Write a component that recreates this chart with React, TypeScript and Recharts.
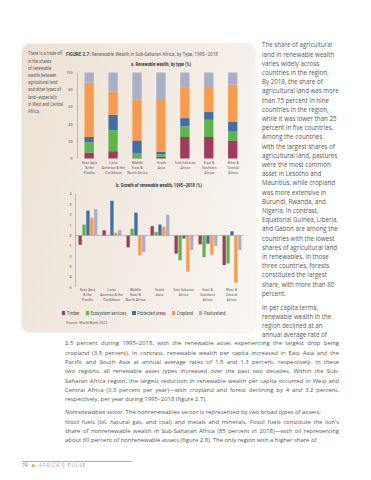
import React from 'react';
import { BarChart, Bar, XAxis, YAxis, ReferenceLine, Legend } from 'recharts';

// ---------- data ----------
const regions = [
  'East Asia & the Pacific',
  'Latin America & the Caribbean',
  'Middle East & North Africa',
  'South Asia',
  'Sub-Saharan Africa',
  'East & Southern Africa',
  'West & Central Africa',
];
const regionLabelLines = [
  ['East Asia', '& the', 'Pacific'],
  ['Latin', 'America & the', 'Caribbean'],
  ['Middle', 'East &', 'North Africa'],
  ['South', 'Asia'],
  ['Sub-Saharan', 'Africa'],
  ['East &', 'Southern', 'Africa'],
  ['West &', 'Central', 'Africa'],
];
const assetTypes = ['Timber', 'Ecosystem services', 'Protected areas', 'Cropland', 'Pastureland'];
const assetColors = ['#a13a5d', '#5cb64b', '#3f6ea8', '#f89b4d', '#a9b0c5'];

// a. share of renewable wealth, by type (%)
const shareTimber = [7, 8.5, 0.5, 2, 25, 25, 21];
const shareEcosystem = [12, 24.5, 5.5, 3, 12.5, 20, 11];
const shareProtected = [6, 18, 15, 3, 9.5, 9, 11];
const shareCropland = [63, 27, 48, 60, 36, 28, 43];
const sharePasture = [12, 22, 31, 32, 17, 18, 14];

// b. growth of renewable wealth, 1995-2018 (%)
const growthTimber = [-0.9, 0.5, -1.15, 0.9, -1.75, -0.85, -2.85];
const growthEcosystem = [1.05, 0.05, 0.65, 0.35, -2.4, -2.1, -2.7];
const growthProtected = [2.4, 3.35, 2.2, 1.05, -0.3, -0.8, 0.4];
const growthCropland = [1.7, 0.25, -1.9, 0.85, -3.5, -1.85, -4.55];
const growthPasture = [2.55, 0.55, -1.6, 2.0, -1.4, -1.0, -1.4];

const shareTicks = [0, 10, 20, 30, 40, 50, 60, 70, 80, 90, 100];
const growthTicks = [-5, -4, -3, -2, -1, 0, 1, 2, 3, 4];

const shareSeries = [shareTimber, shareEcosystem, shareProtected, shareCropland, sharePasture];
const growthSeries = [growthTimber, growthEcosystem, growthProtected, growthCropland, growthPasture];

const shareData = regions.map((r, i) => {
  const row: Record<string, any> = { region: r };
  assetTypes.forEach((t, k) => (row[t] = shareSeries[k][i]));
  return row;
});
const growthData = regions.map((r, i) => {
  const row: Record<string, any> = { region: r };
  assetTypes.forEach((t, k) => (row[t] = growthSeries[k][i]));
  return row;
});

// ---------- text ----------
const sidebarLines = [
  'There is a trade-off', 'in the shares', 'of renewable', 'wealth between', 'agricultural land',
  'and other types of', 'land\u2014especially', 'in West and Central', 'Africa.',
];
const rightColLines = [
  'The share of agricultural', 'land in renewable wealth', 'varies widely across', 'countries in the region.',
  'By 2018, the share of', 'agricultural land was more', 'than 75 percent in nine', 'countries in the region,',
  'while it was lower than 25', 'percent in five countries.', 'Among the countries', 'with the largest shares of',
  'agricultural land, pastures', 'were the most common', 'asset in Lesotho and', 'Mauritius, while cropland',
  'was more extensive in', 'Burundi, Rwanda, and', 'Nigeria. In contrast,', 'Equatorial Guinea, Liberia,',
  'and Gabon are among the', 'countries with the lowest', 'shares of agricultural land', 'in renewables. In those',
  'three countries, forests', 'constituted the largest', 'share, with more than 80', 'percent.',
];
const rightColLines2 = ['In per capita terms,', 'renewable wealth in the', 'region declined at an', 'annual average rate of'];
const bodyLines1 = [
  '2.5 percent during 1995\u20132018, with the renewable asset experiencing the largest drop being',
  'cropland (3.5 percent). In contrast, renewable wealth per capita increased in East Asia and the',
  'Pacific and South Asia at annual average rates of 1.5 and 1.3 percent, respectively. In these',
  'two regions, all renewable asset types increased over the past two decades. Within the Sub-',
  'Saharan Africa region, the largest reduction in renewable wealth per capita occurred in West and',
  'Central Africa (3.3 percent per year)\u2014with cropland and forest declining by 4 and 3.2 percent,',
  'respectively, per year during 1995\u20132018 (figure 2.7).',
];
const bodyLines2 = [
  'fossil fuels (oil, natural gas, and coal) and metals and minerals. Fossil fuels constitute the lion\u2019s',
  'share of nonrenewable wealth in Sub-Saharan Africa (85 percent in 2018)\u2014with oil representing',
  'about 60 percent of nonrenewable assets (figure 2.8). The only region with a higher share of',
];

const FIG_FONT = '"Liberation Sans Narrow", "Roboto Condensed", "Open Sans", sans-serif';
const TEXT = '#555';

const makeTick = (lineGap: number, firstDy: number) => (props: any) => {
  const { x, y, payload } = props;
  const idx = regions.indexOf(payload.value);
  const lines = regionLabelLines[idx] || [];
  return (
    <g transform={`translate(${x},${y})`}>
      {lines.map((l, i) => (
        <text key={i} x={0} y={firstDy + i * lineGap} textAnchor="middle" dominantBaseline="central"
          fontSize={4.2} fill="#666" fontFamily={FIG_FONT}>{l}</text>
      ))}
    </g>
  );
};

const LegendContent = () => (
  <div style={{ display: 'flex', justifyContent: 'center', alignItems: 'center', height: 8, gap: 6,
    fontFamily: FIG_FONT, fontSize: 4.6, color: '#555', paddingLeft: 4 }}>
    {assetTypes.map((t, k) => (
      <div key={t} style={{ display: 'flex', alignItems: 'center', whiteSpace: 'nowrap' }}>
        <span style={{ display: 'inline-block', width: 3.4, height: 3.4, background: assetColors[k], marginRight: 1.5 }} />
        <span>{t}</span>
      </div>
    ))}
  </div>
);

function Lines({ lines, x, y0, step, size, width, justify, family, color, italicFirst }: any) {
  return (
    <>
      {lines.map((l: string, i: number) => {
        const last = i === lines.length - 1;
        return (
          <div key={i} style={{
            position: 'absolute', left: x, top: y0 + i * step - step / 2, height: step, lineHeight: step + 'px',
            fontSize: size, fontFamily: family, color: color || TEXT, width: width,
            whiteSpace: width ? 'normal' : 'nowrap',
            textAlign: justify ? 'justify' : 'left', textAlignLast: justify && !last ? 'justify' : 'left',
          } as any}>
            {italicFirst && i === 0 ? <><i>Nonrenewables sector.</i>{l}</> : l}
          </div>
        );
      })}
    </>
  );
}

export default function App() {
  const BODY = '"Open Sans", sans-serif';
  return (
    <div style={{ position: 'absolute', left: 0, top: 0, width: 371, height: 480, background: '#fff', overflow: 'hidden' }}>
      {/* figure panel */}
      <div style={{
        position: 'absolute', left: 22, top: 44, width: 233, height: 288, borderRadius: 8,
        background: 'linear-gradient(105deg, #ece1d4 0%, #f3ece4 55%, #f9f6f2 100%)',
        boxShadow: '0 0 3px rgba(180,160,140,0.35)',
      }} />

      {/* sidebar */}
      <Lines lines={sidebarLines} x={28} y0={54} step={7.2} size={4.6} family={FIG_FONT} color="#666" />

      {/* figure title */}
      <div style={{ position: 'absolute', left: 66, top: 51, fontFamily: FIG_FONT, fontSize: 5.2, lineHeight: '6px', color: '#666', whiteSpace: 'nowrap' }}>
        <span style={{ fontWeight: 700, color: '#555' }}>FIGURE 2.7: </span>Renewable Wealth in Sub-Saharan Africa, by Type, 1995{'\u2013'}2018
      </div>

      {/* chart a title */}
      <div style={{ position: 'absolute', left: 77, width: 168, top: 62, textAlign: 'center', fontFamily: FIG_FONT, fontSize: 4.6, fontWeight: 700, color: '#444', lineHeight: '6px' }}>
        a. Renewable wealth, by type (%)
      </div>

      {/* chart a */}
      <div style={{ position: 'absolute', left: 40, top: 60 }}>
        <BarChart width={215} height={125} data={shareData} margin={{ top: 12.5, right: 10, bottom: 0, left: 0 }} barSize={9.3}>
          <XAxis dataKey="region" interval={0} height={26.5} axisLine={false} tickLine={false} tickSize={0} tickMargin={0}
            tick={makeTick(5, 4)} />
          <YAxis type="number" domain={[0, 100]} ticks={shareTicks} width={37.5} tickLine={false} tickSize={0} tickMargin={5}
            axisLine={{ stroke: '#999', strokeWidth: 0.6 }} tick={{ fontSize: 4.2, fill: '#666', fontFamily: FIG_FONT }} />
          {assetTypes.map((t, k) => (
            <Bar key={t} dataKey={t} stackId="s" fill={assetColors[k]} isAnimationActive={false} />
          ))}
        </BarChart>
      </div>

      {/* chart b title */}
      <div style={{ position: 'absolute', left: 75, width: 168, top: 183, textAlign: 'center', fontFamily: FIG_FONT, fontSize: 4.6, fontWeight: 700, color: '#444', lineHeight: '6px' }}>
        b. Growth of renewable wealth, 1995{'\u2013'}2018 (%)
      </div>

      {/* chart b */}
      <div style={{ position: 'absolute', left: 40, top: 180 }}>
        <BarChart width={215} height={137} data={growthData} margin={{ top: 14, right: 11.5, bottom: 0, left: 0 }}
          barSize={3.3} barGap={0.6}>
          <XAxis dataKey="region" interval={0} height={21.7} axisLine={false} tickLine={false} tickSize={0} tickMargin={0}
            tick={makeTick(5, 2)} />
          <YAxis type="number" domain={[-5, 4]} ticks={growthTicks} width={35.5} tickLine={false} tickSize={0} tickMargin={4}
            axisLine={{ stroke: '#999', strokeWidth: 0.6 }} tick={{ fontSize: 4.2, fill: '#666', fontFamily: FIG_FONT }} />
          <ReferenceLine y={0} stroke="#999" strokeWidth={0.6} />
          {assetTypes.map((t, k) => (
            <Bar key={t} dataKey={t} fill={assetColors[k]} isAnimationActive={false} />
          ))}
          <Legend verticalAlign="bottom" height={8} content={<LegendContent />} />
        </BarChart>
      </div>

      {/* source */}
      <div style={{ position: 'absolute', left: 66, top: 320, fontFamily: FIG_FONT, fontSize: 4.2, color: '#666', lineHeight: '6px' }}>
        Source: World Bank 2021.
      </div>

      {/* right column */}
      <Lines lines={rightColLines} x={262} y0={45} step={9.2} size={6.2} family={BODY} />
      <Lines lines={rightColLines2} x={262} y0={307} step={9} size={6.2} family={BODY} />

      {/* body */}
      <Lines lines={bodyLines1} x={65} y0={344} step={9.35} size={5.9} family={BODY} width={274} justify />
      <Lines lines={[' The nonrenewables sector is represented by two broad types of assets:']} x={65} y0={413} step={9.35}
        size={5.9} family={BODY} width={274} justify italicFirst />
      <Lines lines={bodyLines2} x={65} y0={422.4} step={9.35} size={5.9} family={BODY} width={274} justify />

      {/* footer */}
      <div style={{ position: 'absolute', left: 22, top: 460.5, width: 110, height: 0.8, background: '#aaa' }} />
      <div style={{ position: 'absolute', left: 22, top: 462, fontFamily: BODY, fontSize: 5, lineHeight: '7px', color: '#777', whiteSpace: 'nowrap' }}>
        74 <span style={{ color: '#f2a040', margin: '0 3px', fontSize: 4.5 }}>{'\u25B6'}</span>
        <span style={{ letterSpacing: 1, fontSize: 4.6, color: '#999' }}>AFRICA{'\u2019'}S PULSE</span>
      </div>
    </div>
  );
}
